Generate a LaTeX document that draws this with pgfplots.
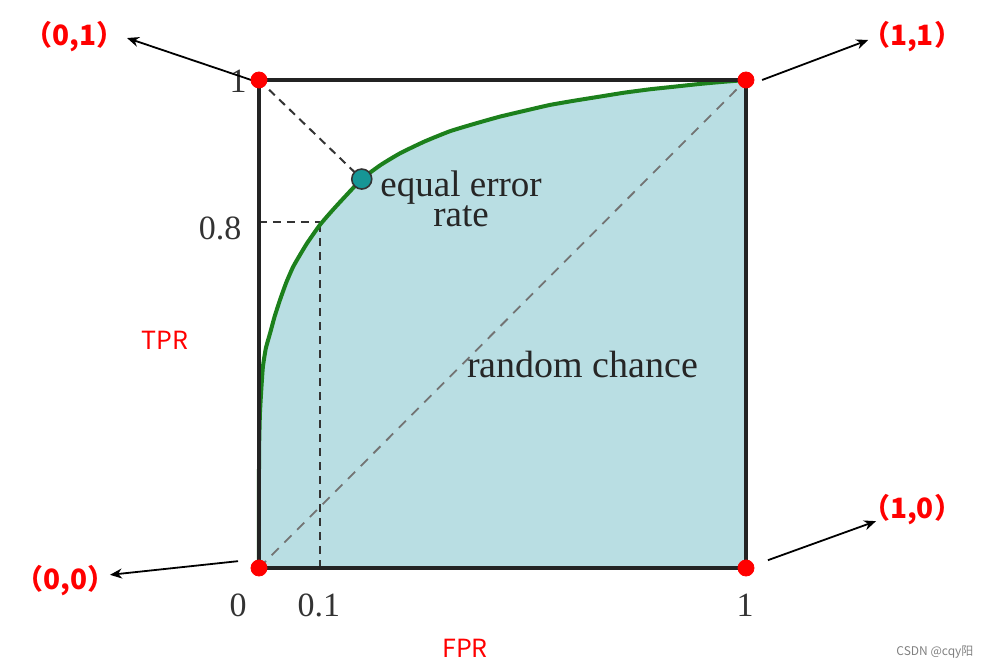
\documentclass[border=0pt]{standalone}
\usepackage{pgfplots}
\pgfplotsset{compat=1.18}
\usepackage{fontspec}
\setmainfont{Liberation Serif}
\newfontfamily\cjk{Noto Sans CJK SC}
\usetikzlibrary{arrows.meta}
\definecolor{rocfill}{RGB}{185,222,227}
\definecolor{rocgreen}{RGB}{28,128,28}
\definecolor{eer}{RGB}{22,150,150}
\definecolor{framec}{RGB}{35,35,35}
\begin{document}
\begin{tikzpicture}
\useasboundingbox (-129.5pt,-50.5pt) rectangle (363pt,284pt);
\begin{axis}[
  at={(0,0)}, anchor=origin,
  scale only axis, width=243.5pt, height=244pt,
  xmin=0, xmax=1, ymin=0, ymax=1,
  xtick=\empty, ytick=\empty,
  axis line style={line width=1.6pt, draw=framec},
  clip=false,
  axis on top,
]
\addplot[fill=rocfill, draw=none, smooth, tension=0.3] coordinates {
 (0,0) (0,0.20) (0.0005,0.26) (0.002,0.318) (0.005,0.37) (0.008,0.412) (0.014,0.45)
 (0.023,0.482) (0.032,0.515) (0.043,0.549) (0.056,0.585) (0.070,0.617) (0.085,0.643)
 (0.099,0.666) (0.125,0.703) (0.15,0.732) (0.172,0.756) (0.211,0.797) (0.25,0.826)
 (0.29,0.850) (0.34,0.874) (0.392,0.895) (0.445,0.911) (0.495,0.925) (0.55,0.938)
 (0.598,0.949) (0.65,0.958) (0.700,0.966) (0.75,0.974) (0.803,0.981) (0.85,0.986)
 (0.906,0.992) (0.95,0.996) (1,1)} \closedcycle;
% diagonal
\addplot[draw=gray!90!black, line width=0.9pt, dash pattern=on 5pt off 4pt] coordinates {(0,0) (1,1)};
% 0.8 guides
\addplot[draw=black!80, line width=1.1pt, dash pattern=on 4pt off 3pt] coordinates {(0,0.709) (0.125,0.709)};
\addplot[draw=black!80, line width=1.1pt, dash pattern=on 4pt off 3pt] coordinates {(0.125,0) (0.125,0.709)};
% to EER
\addplot[draw=black!80, line width=1pt, dash pattern=on 4pt off 3pt] coordinates {(0,1) (0.211,0.797)};
% ROC curve
\addplot[draw=rocgreen, line width=2pt, smooth, tension=0.3] coordinates {
 (0,0) (0,0.20) (0.0005,0.26) (0.002,0.318) (0.005,0.37) (0.008,0.412) (0.014,0.45)
 (0.023,0.482) (0.032,0.515) (0.043,0.549) (0.056,0.585) (0.070,0.617) (0.085,0.643)
 (0.099,0.666) (0.125,0.703) (0.15,0.732) (0.172,0.756) (0.211,0.797) (0.25,0.826)
 (0.29,0.850) (0.34,0.874) (0.392,0.895) (0.445,0.911) (0.495,0.925) (0.55,0.938)
 (0.598,0.949) (0.65,0.958) (0.700,0.966) (0.75,0.974) (0.803,0.981) (0.85,0.986)
 (0.906,0.992) (0.95,0.996) (1,1)};
% EER marker
\addplot[only marks, mark=*, mark size=5pt, mark options={fill=eer, draw=black!80, line width=0.8pt}] coordinates {(0.211,0.797)};
% red corner dots
\addplot[only marks, mark=*, mark size=4pt, mark options={fill=red, draw=red}] coordinates {(0,1) (1,1) (0,0) (1,0)};
% tick-like labels
\node[font=\fontsize{17}{17}\selectfont, text=black!80] at (axis cs:-0.043,0.998) {1};
\node[font=\fontsize{17}{17}\selectfont, text=black!80] at (axis cs:-0.080,0.695) {0.8};
\node[font=\fontsize{17}{17}\selectfont, text=black!80] at (axis cs:-0.043,-0.076) {0};
\node[font=\fontsize{17}{17}\selectfont, text=black!80] at (axis cs:0.123,-0.076) {0.1};
\node[font=\fontsize{17}{17}\selectfont, text=black!80] at (axis cs:0.998,-0.076) {1};
% annotations
\node[font=\fontsize{18.5}{18.5}\selectfont, text=black!85, inner sep=0pt, anchor=base] at (axis cs:0.415,0.762) {equal error};
\node[font=\fontsize{18.5}{18.5}\selectfont, text=black!85, inner sep=0pt, anchor=base] at (axis cs:0.415,0.700) {rate};
\node[font=\fontsize{19}{19}\selectfont, text=black!85] at (axis cs:0.665,0.418) {random chance};
% arrows
\draw[-{Stealth[length=6pt,width=5pt]}, line width=0.9pt] (axis cs:-0.004,0.996) -- (axis cs:-0.271,1.086);
\draw[-{Stealth[length=6pt,width=5pt]}, line width=0.9pt] (axis cs:1.033,1.0) -- (axis cs:1.251,1.082);
\draw[-{Stealth[length=6pt,width=5pt]}, line width=0.9pt] (axis cs:-0.043,0.014) -- (axis cs:-0.306,-0.014);
\draw[-{Stealth[length=6pt,width=5pt]}, line width=0.9pt] (axis cs:1.045,0.016) -- (axis cs:1.267,0.096);
% red labels
\node[font=\cjk\bfseries\fontsize{14}{14}\selectfont, text=red] at (axis cs:-0.378,1.088) {（0,1）};
\node[font=\cjk\bfseries\fontsize{14}{14}\selectfont, text=red] at (axis cs:1.341,1.088) {（1,1）};
\node[font=\cjk\bfseries\fontsize{14}{14}\selectfont, text=red] at (axis cs:-0.398,-0.025) {（0,0）};
\node[font=\cjk\bfseries\fontsize{14}{14}\selectfont, text=red] at (axis cs:1.341,0.119) {（1,0）};
\node[font=\cjk\fontsize{12.5}{12.5}\selectfont, text=red] at (axis cs:-0.193,0.467) {TPR};
\node[font=\cjk\fontsize{12.5}{12.5}\selectfont, text=red] at (axis cs:0.423,-0.164) {FPR};
\node[font=\cjk\fontsize{6}{6}\selectfont, text=gray] at (axis cs:1.388,-0.172) {CSDN @cqy阳};
\end{axis}
\end{tikzpicture}
\end{document}
